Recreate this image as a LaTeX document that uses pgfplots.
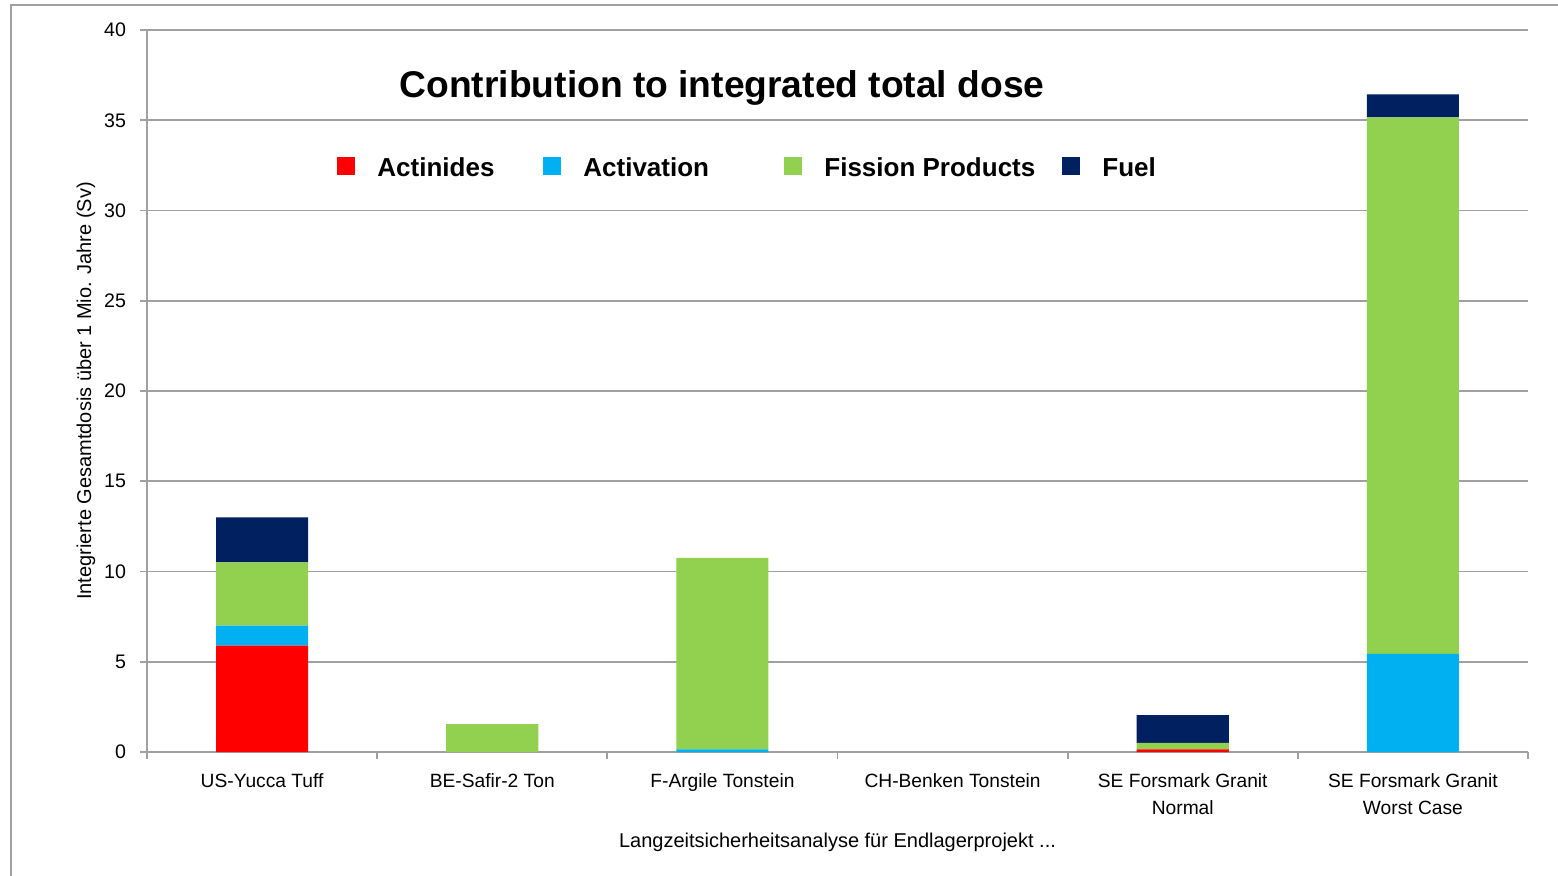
\documentclass[border=0pt]{standalone}
\usepackage{fontspec}
\setmainfont{Liberation Sans}
\usepackage{pgfplots}
\pgfplotsset{compat=1.18}
\definecolor{cAct}{HTML}{FF0000}
\definecolor{cActv}{HTML}{00B0F0}
\definecolor{cFis}{HTML}{92D050}
\definecolor{cFuel}{HTML}{002060}
\definecolor{gridg}{HTML}{A0A0A0}
\begin{document}
\begin{tikzpicture}
\useasboundingbox (-73.5pt,-61.5pt) rectangle (705.5pt,376pt);
\draw[gridg, line width=1pt] (-68pt,-80pt) -- (-68pt,373.5pt) -- (720pt,373.5pt);
\begin{axis}[
  at={(0pt,0pt)}, anchor=south west,
  scale only axis, width=690.5pt, height=361pt,
  ybar stacked, bar width=0.4,
  xmin=-0.5, xmax=5.5, ymin=0, ymax=40,
  ytick={0,5,...,40},
  xtick={0,...,5},
  xticklabels={US-Yucca Tuff, BE-Safir-2 Ton, F-Argile Tonstein, CH-Benken Tonstein, {SE Forsmark Granit\\Normal}, {SE Forsmark Granit\\Worst Case}},
  minor xtick={-0.5,0.5,...,5.5},
  axis x line*=bottom, axis y line*=left,
  axis line style={gridg, line width=0.9pt},
  tick align=outside, major tick length=3.5pt, minor tick length=3.5pt,
  major x tick style={draw=none},
  minor x tick style={gridg, line width=0.9pt},
  major y tick style={gridg, line width=0.9pt},
  ymajorgrids, grid style={gridg, line width=0.8pt},
  /pgf/number format/assume math mode=true,
  yticklabel style={font=\fontsize{9.8}{11}\selectfont, xshift=-3.5pt},
  xticklabel style={align=center, font=\fontsize{9.6}{13.5}\selectfont, yshift=-4pt},
  ylabel={Integrierte Gesamtdosis über 1 Mio. Jahre (Sv)},
  ylabel style={at={(axis description cs:-0.0442,0.5)}, anchor=center, rotate=0, font=\fontsize{10}{12}\selectfont},
  xlabel={Langzeitsicherheitsanalyse für Endlagerprojekt ...},
  xlabel style={at={(axis description cs:0.5,-0.1247)}, anchor=center, font=\fontsize{10}{12}\selectfont},
  legend columns=4,
  legend style={at={(axis description cs:0.1376,0.8088)}, anchor=west, draw=none, fill=none,
    inner sep=0pt, column sep=0pt, nodes={inner sep=0pt}, font=\fontsize{13}{15}\selectfont\bfseries,
    /tikz/every odd column/.append style={column sep=11pt}},
  legend image code/.code={\fill[#1] (0pt,-3.5pt) rectangle (9pt,5.5pt);},
]
\addplot[fill=cAct, draw=none] coordinates {(0,5.9) (1,0) (2,0) (3,0) (4,0.15) (5,0)};
\addlegendentry{\makebox[83pt][l]{Actinides}}
\addplot[fill=cActv, draw=none] coordinates {(0,1.1) (1,0) (2,0.15) (3,0) (4,0) (5,5.43)};
\addlegendentry{\makebox[100.5pt][l]{Activation}}
\addplot[fill=cFis, draw=none] coordinates {(0,3.5) (1,1.55) (2,10.6) (3,0) (4,0.35) (5,29.73)};
\addlegendentry{\makebox[119pt][l]{Fission Products}}
\addplot[fill=cFuel, draw=none] coordinates {(0,2.5) (1,0) (2,0) (3,0) (4,1.55) (5,1.28)};
\addlegendentry{Fuel}
\node[font=\fontsize{18.6}{22}\selectfont\bfseries, anchor=base] at (axis description cs:0.4164,0.9072) {Contribution to integrated total dose};
\end{axis}
\end{tikzpicture}
\end{document}
